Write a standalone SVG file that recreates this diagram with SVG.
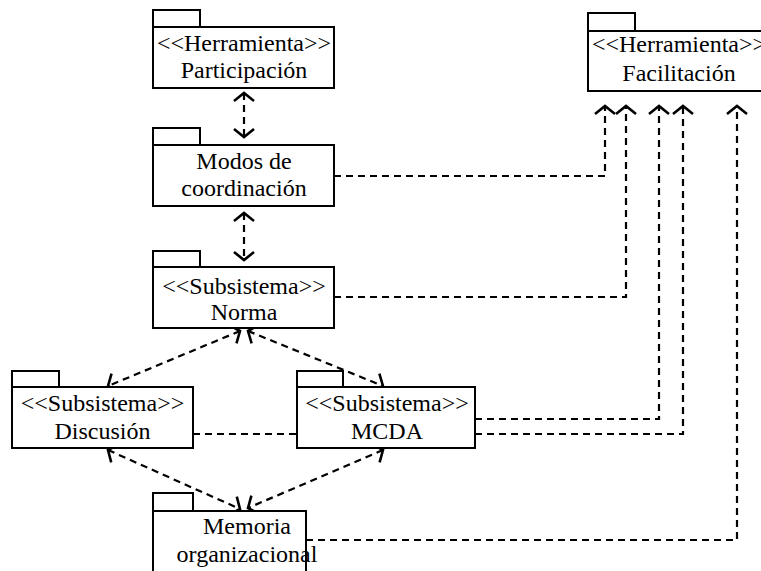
<svg xmlns="http://www.w3.org/2000/svg" width="761" height="571" viewBox="0 0 761 571">
  <style>
    .box { fill: #ffffff; stroke: #000000; stroke-width: 2; }
    .lbl { font-family: 'Liberation Serif', 'Times New Roman', serif; font-size: 24px; fill: #000000; text-anchor: middle; }
    .dep { fill: none; stroke: #000000; stroke-width: 2.2; stroke-dasharray: 7 5; }
  </style>
  <defs>
    <marker id="open" markerUnits="userSpaceOnUse" markerWidth="24" markerHeight="24" viewBox="-12 -12 24 24" refX="0" refY="0" orient="auto-start-reverse" overflow="visible">
      <path d="M-8,-10 L0,0 L-8,10" fill="none" stroke="#000000" stroke-width="2.6" stroke-dasharray="none"/>
    </marker>
  </defs>

  <rect width="761" height="571" fill="#ffffff"/>

  <!-- dependency connectors -->
  <g id="connectors">
    <line class="dep" x1="244" y1="93" x2="244" y2="137" marker-start="url(#open)" marker-end="url(#open)"/>
    <line class="dep" x1="244" y1="213" x2="244" y2="260" marker-start="url(#open)" marker-end="url(#open)"/>
    <line class="dep" x1="240" y1="331" x2="108" y2="386" marker-start="url(#open)" marker-end="url(#open)"/>
    <line class="dep" x1="248" y1="331" x2="383" y2="386" marker-start="url(#open)" marker-end="url(#open)"/>
    <line class="dep" x1="108" y1="450" x2="240" y2="509" marker-start="url(#open)" marker-end="url(#open)"/>
    <line class="dep" x1="383" y1="450" x2="248" y2="508" marker-start="url(#open)" marker-end="url(#open)"/>
    <line class="dep" x1="193" y1="434" x2="297" y2="434"/>
    <path class="dep" d="M334,176 H605 V106" marker-end="url(#open)"/>
    <path class="dep" d="M334,297 H626 V106" marker-end="url(#open)"/>
    <path class="dep" d="M475,419 H659 V106" marker-end="url(#open)"/>
    <path class="dep" d="M475,434 H683 V106" marker-end="url(#open)"/>
    <path class="dep" d="M306,540 H737 V106" marker-end="url(#open)"/>
  </g>

  <!-- packages -->
  <g id="participacion">
    <rect class="box" x="153" y="10" width="47" height="17"/>
    <rect class="box" x="153" y="27" width="181" height="61"/>
    <text class="lbl" x="244" y="51">&lt;&lt;Herramienta&gt;&gt;</text>
    <text class="lbl" x="244" y="78">Participación</text>
  </g>

  <g id="facilitacion">
    <rect class="box" x="588" y="13" width="47" height="18"/>
    <rect class="box" x="588" y="31" width="181" height="60"/>
    <text class="lbl" x="679" y="52">&lt;&lt;Herramienta&gt;&gt;</text>
    <text class="lbl" x="679" y="81">Facilitación</text>
  </g>

  <g id="modos">
    <rect class="box" x="153" y="128" width="47" height="17"/>
    <rect class="box" x="153" y="145" width="181" height="61"/>
    <text class="lbl" x="244" y="169">Modos de</text>
    <text class="lbl" x="244" y="196">coordinación</text>
  </g>

  <g id="norma">
    <rect class="box" x="153" y="251" width="47" height="16"/>
    <rect class="box" x="153" y="267" width="181" height="61"/>
    <text class="lbl" x="244" y="294">&lt;&lt;Subsistema&gt;&gt;</text>
    <text class="lbl" x="244" y="320">Norma</text>
  </g>

  <g id="discusion">
    <rect class="box" x="12" y="371" width="47" height="16"/>
    <rect class="box" x="12" y="387" width="181" height="61"/>
    <text class="lbl" x="102.5" y="411">&lt;&lt;Subsistema&gt;&gt;</text>
    <text class="lbl" x="102.5" y="439">Discusión</text>
  </g>

  <g id="mcda">
    <rect class="box" x="297" y="371" width="46" height="16"/>
    <rect class="box" x="297" y="387" width="178" height="61"/>
    <text class="lbl" x="387" y="411">&lt;&lt;Subsistema&gt;&gt;</text>
    <text class="lbl" x="387" y="439">MCDA</text>
  </g>

  <g id="memoria">
    <rect class="box" x="153" y="493" width="40" height="18"/>
    <rect class="box" x="153" y="511" width="153" height="72"/>
    <text class="lbl" x="247" y="534">Memoria</text>
    <text class="lbl" x="247" y="562">organizacional</text>
  </g>
</svg>
